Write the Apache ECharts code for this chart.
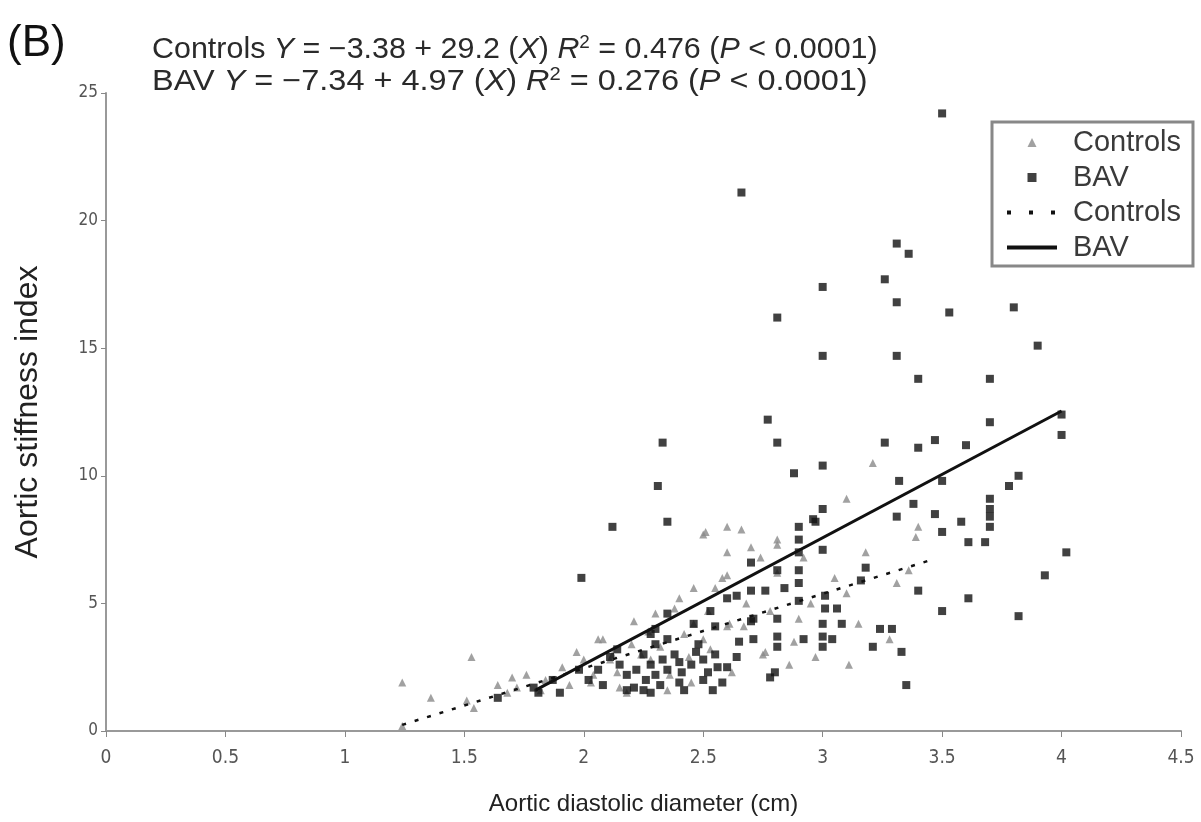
<!DOCTYPE html>
<html>
<head>
<meta charset="utf-8">
<script src="https://cdn.jsdelivr.net/npm/echarts@6/dist/echarts.min.js"></script>
<style>
  html, body { margin: 0; padding: 0; background: #fff; }
  #chart { width: 1201px; height: 822px; }
</style>
</head>
<body>
<div id="chart"></div>
<script>
// aortic diastolic diameter (cm) vs aortic stiffness index
var xTicks = [0, 0.5, 1, 1.5, 2, 2.5, 3, 3.5, 4, 4.5]
var yTicks = [0, 5, 10, 15, 20, 25]

var controls = [
  [3.21, 10.5], [3.10, 9.1], [3.40, 8.0], [3.39, 7.6], [3.31, 5.8], [3.10, 5.4],
  [3.15, 4.2], [3.28, 3.6], [3.11, 2.6], [2.97, 2.9], [2.86, 2.6], [2.88, 3.5],
  [2.75, 3.0], [2.60, 4.1], [2.51, 7.8], [2.60, 8.0], [2.60, 7.0], [2.70, 7.2],
  [2.81, 7.5], [2.60, 6.1], [2.61, 4.2], [2.76, 3.1], [2.30, 4.6], [2.21, 4.3],
  [2.15, 1.7], [1.24, 1.9], [1.24, 0.2], [1.36, 1.3], [1.51, 1.2], [1.54, 0.9],
  [1.53, 2.9], [1.64, 1.8], [1.70, 2.1], [1.76, 2.2], [1.91, 2.5], [1.97, 3.1],
  [2.04, 2.2], [2.06, 3.6], [2.50, 7.7], [2.81, 7.3], [2.81, 6.2], [2.78, 4.7],
  [2.67, 4.1], [2.08, 3.6], [2.11, 2.8], [2.14, 2.3], [2.18, 1.5], [2.52, 4.7],
  [2.46, 4.2], [2.24, 3.0], [2.32, 3.3], [2.38, 4.8], [2.42, 3.8], [2.46, 5.6],
  [2.55, 5.6], [2.58, 6.0], [2.66, 7.9], [2.68, 5.0], [2.74, 6.8], [2.44, 2.9],
  [2.36, 2.2], [2.28, 2.8], [2.20, 3.4], [2.12, 3.0], [2.00, 2.8], [1.94, 1.8],
  [1.84, 2.0], [1.82, 1.6], [1.72, 1.7], [1.68, 1.5], [2.50, 3.6], [2.53, 3.2],
  [2.90, 4.4], [2.95, 5.0], [3.05, 6.0], [2.62, 2.3], [2.35, 1.6], [2.45, 1.9],
  [3.18, 7.0], [3.36, 6.3], [2.92, 6.8], [2.40, 5.2], [2.27, 3.9], [2.03, 1.9]
]

var bav = [
  [3.50, 24.2], [2.66, 21.1], [3.31, 19.1], [3.36, 18.7], [3.00, 17.4], [3.26, 17.7],
  [3.31, 16.8], [3.53, 16.4], [3.80, 16.6], [2.81, 16.2], [3.90, 15.1], [3.00, 14.7],
  [3.31, 14.7], [3.40, 13.8], [3.70, 13.8], [2.77, 12.2], [3.70, 12.1], [4.00, 12.4],
  [2.33, 11.3], [2.81, 11.3], [3.26, 11.3], [3.40, 11.1], [3.47, 11.4], [3.60, 11.2],
  [4.00, 11.6], [2.88, 10.1], [3.00, 10.4], [3.82, 10.0], [3.78, 9.6], [3.32, 9.8],
  [3.50, 9.8], [2.31, 9.6], [3.00, 8.7], [2.97, 8.2], [3.38, 8.9], [3.31, 8.4],
  [3.47, 8.5], [3.58, 8.2], [3.70, 9.1], [3.70, 8.7], [3.70, 8.4], [3.70, 8.0],
  [3.50, 7.8], [3.61, 7.4], [3.68, 7.4], [4.02, 7.0], [3.00, 7.1], [2.90, 8.0],
  [2.90, 7.5], [2.90, 7.0], [2.90, 6.3], [2.90, 5.8], [2.90, 5.1], [3.18, 6.4],
  [3.16, 5.9], [3.93, 6.1], [3.40, 5.5], [3.61, 5.2], [3.50, 4.7], [3.82, 4.5],
  [3.01, 5.3], [3.01, 4.8], [3.06, 4.8], [3.08, 4.2], [3.24, 4.0], [3.29, 4.0],
  [3.00, 4.2], [3.00, 3.7], [3.04, 3.6], [3.00, 3.3], [3.21, 3.3], [3.33, 3.1],
  [3.35, 1.8], [2.81, 4.4], [2.81, 3.7], [2.81, 3.3], [2.78, 2.1], [2.80, 2.3],
  [2.92, 3.6], [2.71, 4.4], [2.71, 3.6], [2.64, 2.9], [2.54, 1.6], [2.55, 4.1],
  [2.70, 5.5], [2.76, 5.5], [2.84, 5.6], [2.60, 5.2], [2.12, 8.0], [2.35, 8.2],
  [2.70, 6.6], [2.81, 6.3], [2.96, 8.3], [2.64, 5.3], [2.53, 4.7], [2.46, 4.2],
  [2.35, 4.6], [2.70, 4.3], [2.47, 3.1], [2.50, 2.8], [2.56, 2.5], [2.41, 2.3],
  [2.40, 1.9], [2.28, 1.5], [2.21, 1.7], [1.99, 6.0], [1.79, 1.7], [1.81, 1.5],
  [1.87, 2.0], [1.90, 1.5], [1.98, 2.4], [2.11, 2.9], [2.14, 3.2], [1.64, 1.3],
  [2.25, 3.0], [2.28, 2.6], [2.30, 2.2], [2.30, 3.4], [2.33, 2.8], [2.35, 2.4],
  [2.26, 2.0], [2.32, 1.8], [2.38, 3.0], [2.40, 2.7], [2.22, 2.4], [2.18, 2.2],
  [2.30, 4.0], [2.35, 3.6], [2.28, 3.8], [2.45, 2.6], [2.50, 2.0], [2.48, 3.4],
  [2.55, 3.0], [2.60, 2.5], [2.65, 3.5], [2.02, 2.0], [2.06, 2.4], [2.08, 1.8],
  [2.15, 2.6], [2.18, 1.6], [2.25, 1.6], [2.42, 1.6], [2.58, 1.9], [2.52, 2.3]
]

// regression line end points as drawn
var controlsFit = [[1.24, 0.24], [3.45, 6.69]]
var bavFit = [[1.80, 1.61], [4.00, 12.54]]

var chart = echarts.init(document.getElementById('chart'))
var font = '"Liberation Sans", Arial, sans-serif'
var narrow = '"Liberation Sans Narrow", "DejaVu Sans Condensed", "Liberation Sans", sans-serif'

var eqRich = {
    i: {fontStyle: 'italic', fontSize: 29, fontFamily: font, fill: '#2a2a2a'},
    s: {fontSize: 18, fontFamily: font, verticalAlign: 'top', padding: [0, 0, 14, 0], fill: '#2a2a2a'}
}

var option = {
    backgroundColor: '#fff',
    animation: false,
    textStyle: {fontFamily: font},
    grid: {left: 106, right: 20, top: 93, bottom: 91},
    graphic: [
        {type: 'text', left: 7, top: 22, style: {text: '(B)', font: '44px ' + font, fill: '#111'}},
        {
            type: 'text', left: 152, top: 34, scaleX: 1.05,
            style: {
                text: 'Controls {i|Y} = \u22123.38 + 29.2 ({i|X}) {i|R}{s|2} = 0.476 ({i|P} < 0.0001)',
                font: '29px ' + font, fill: '#2a2a2a', rich: eqRich
            }
        },
        {
            type: 'text', left: 152, top: 66, scaleX: 1.12,
            style: {
                text: 'BAV {i|Y} = \u22127.34 + 4.97 ({i|X}) {i|R}{s|2} = 0.276 ({i|P} < 0.0001)',
                font: '29px ' + font, fill: '#2a2a2a', rich: eqRich
            }
        }
    ],
    legend: {
        orient: 'vertical',
        left: 992, top: 122,
        padding: [6, 12, 4, 13],
        itemGap: 6,
        itemWidth: 50,
        itemHeight: 9,
        borderColor: '#888',
        borderWidth: 3,
        backgroundColor: '#fff',
        textStyle: {fontSize: 29, color: '#3a3a3a', fontFamily: font, padding: [0, 0, 0, 11]},
        formatter: function (name) { return name.replace(' fit', '') },
        data: [
            {name: 'Controls', icon: 'path://M5,0 L10,10 L0,10 Z'},
            {name: 'BAV', icon: 'path://M0,0 L10,0 L10,10 L0,10 Z'},
            {name: 'Controls fit', itemStyle: {opacity: 0}, lineStyle: {width: 4, type: [4, 18]}},
            {name: 'BAV fit', itemStyle: {opacity: 0}, lineStyle: {width: 4}}
        ]
    },
    xAxis: {
        type: 'value',
        min: 0, max: 4.5, interval: 0.5,
        name: 'Aortic diastolic diameter (cm)',
        nameLocation: 'middle', nameGap: 61,
        nameTextStyle: {fontSize: 24, color: '#222'},
        axisLine: {lineStyle: {color: '#999', width: 2}},
        axisTick: {show: true, length: 6, lineStyle: {color: '#888'}},
        axisLabel: {fontSize: 19, color: '#555', margin: 18, fontFamily: narrow},
        splitLine: {show: false}
    },
    yAxis: {
        type: 'value',
        min: 0, max: 25, interval: 5,
        name: 'Aortic stiffness index',
        nameLocation: 'middle', nameGap: 62,
        nameTextStyle: {fontSize: 32, color: '#222'},
        axisLine: {show: true, lineStyle: {color: '#999', width: 2}},
        axisTick: {show: true, length: 5, lineStyle: {color: '#888'}},
        axisLabel: {fontSize: 17, color: '#555', margin: 8, fontFamily: narrow},
        splitLine: {show: false}
    },
    series: [
        {
            name: 'Controls', type: 'scatter',
            symbol: 'triangle', symbolSize: 8,
            itemStyle: {color: '#8a8a8a'},
            data: controls, z: 2
        },
        {
            name: 'BAV', type: 'scatter',
            symbol: 'rect', symbolSize: 8,
            itemStyle: {color: '#111'},
            data: bav, z: 3
        },
        {
            name: 'Controls fit', type: 'line',
            showSymbol: false, symbol: 'none',
            lineStyle: {color: '#111', width: 2.5, type: [4, 9]},
            itemStyle: {color: '#111'},
            data: controlsFit, z: 4
        },
        {
            name: 'BAV fit', type: 'line',
            showSymbol: false, symbol: 'none',
            lineStyle: {color: '#111', width: 3},
            itemStyle: {color: '#111'},
            data: bavFit, z: 5
        }
    ]
}

option && chart.setOption(option)
</script>
</body>
</html>
